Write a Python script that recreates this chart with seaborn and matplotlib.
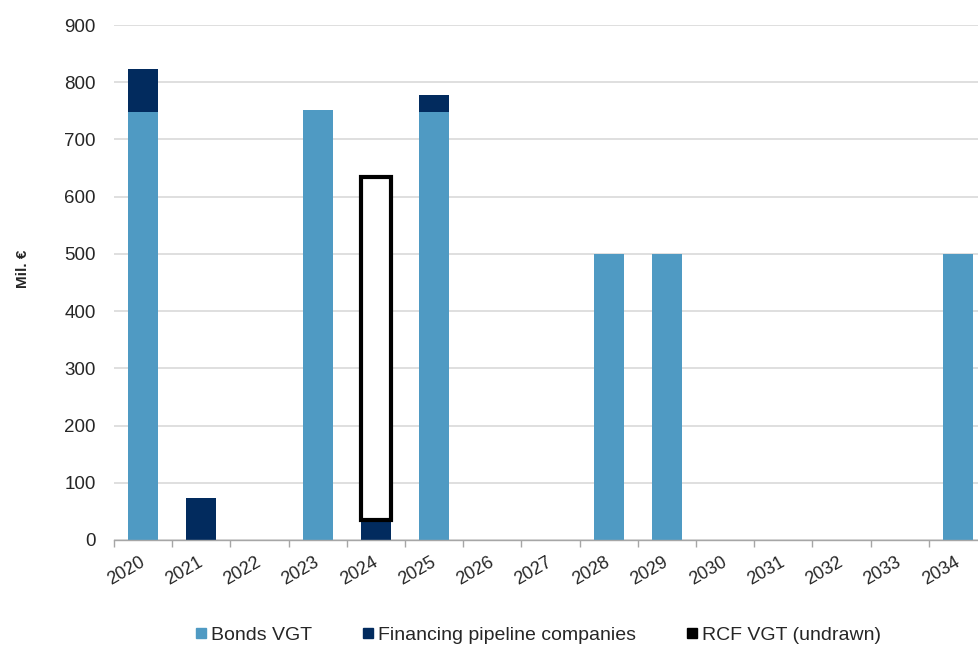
import numpy as np
import pandas as pd
import matplotlib
matplotlib.use("Agg")
import matplotlib.pyplot as plt
from matplotlib.lines import Line2D
from matplotlib.transforms import ScaledTranslation
import seaborn as sns

# Maturity profile (million EUR)
years = ["2020", "2021", "2022", "2023", "2024", "2025", "2026", "2027",
         "2028", "2029", "2030", "2031", "2032", "2033", "2034"]
bonds = [748, 0, 0, 752, 0, 748, 0, 0, 500, 500, 0, 0, 0, 0, 500]
pipeline = [75, 73, 0, 0, 35, 30, 0, 0, 0, 0, 0, 0, 0, 0, 0]
rcf_undrawn = [0, 0, 0, 0, 600, 0, 0, 0, 0, 0, 0, 0, 0, 0, 0]
series_names = ["Bonds VGT", "Financing pipeline companies", "RCF VGT (undrawn)"]

c_bonds = "#4F9AC3"
c_pipe = "#022B5E"

sns.set_theme(style="white")
plt.rcParams["font.family"] = ["Liberation Sans", "DejaVu Sans"]
plt.rcParams["font.size"] = 13

df = pd.DataFrame({"year": years, "bonds": bonds, "pipeline": pipeline,
                   "rcf": rcf_undrawn})
df["stack"] = df["bonds"] + df["pipeline"]
df["rcf_base"] = df["pipeline"]

fig = plt.figure(figsize=(9.79, 6.48), dpi=100)
ax = fig.add_axes([114 / 979, 108 / 648, 873 / 979, 515 / 648])

bw = 0.52
# stacked bars: pipeline on top of bonds
sns.barplot(data=df, x="year", y="stack", color=c_pipe, width=bw, ax=ax,
            saturation=1, edgecolor="none", linewidth=0, zorder=3)
sns.barplot(data=df, x="year", y="bonds", color=c_bonds, width=bw, ax=ax,
            saturation=1, edgecolor="none", linewidth=0, zorder=3)
# undrawn revolving credit facility shown as an outlined box
rcf_sub = df[df["rcf"] > 0]
ax.bar(df.index[df["rcf"] > 0], rcf_sub["rcf"], bottom=rcf_sub["rcf_base"],
       width=bw, facecolor="white", edgecolor="black", linewidth=3, zorder=4)

ax.set_ylim(0, 900)
ax.set_xlim(-0.5, len(years) - 0.5)
ax.set_yticks(np.arange(0, 901, 100))
ax.yaxis.grid(True, color="#D9D9D9", linewidth=1.2, zorder=0)
ax.set_axisbelow(True)
for s in ["top", "right", "left"]:
    ax.spines[s].set_visible(False)
ax.spines["bottom"].set_color("#A6A6A6")
ax.spines["bottom"].set_linewidth(1)
ax.spines["bottom"].set_zorder(5)

ax.set_xticks(np.arange(len(years)))
ax.set_xticklabels(years, rotation=30, ha="right", va="top",
                   rotation_mode="anchor", fontsize=13)
ax.set_xticks(np.arange(-0.5, len(years)), minor=True)
ax.tick_params(axis="x", which="major", length=0, pad=10)
ax.tick_params(axis="x", which="minor", length=5, color="#A6A6A6", width=1,
               direction="out", bottom=True)
ax.tick_params(axis="y", length=0, pad=13, labelsize=13.5)
shift = ScaledTranslation(-4 / 100, 0, fig.dpi_scale_trans)
for lbl in ax.get_xticklabels():
    lbl.set_transform(lbl.get_transform() + shift)

ax.set_xlabel("")
ax.set_ylabel("Mil. €", fontsize=11, fontweight="bold")
ax.yaxis.set_label_coords(-84 / 873, (540 - 269) / 515)

handles = [Line2D([], [], marker="s", linestyle="none", markersize=7,
                  markerfacecolor=c, markeredgecolor=c)
           for c in (c_bonds, c_pipe, "black")]
fig.legend(handles, series_names, loc="center", ncol=3,
           bbox_to_anchor=(538 / 979, 1 - 635 / 648), frameon=False,
           fontsize=14, handlelength=0.6, handletextpad=0.2,
           columnspacing=2.6)

fig.savefig("out.png", dpi=100)
